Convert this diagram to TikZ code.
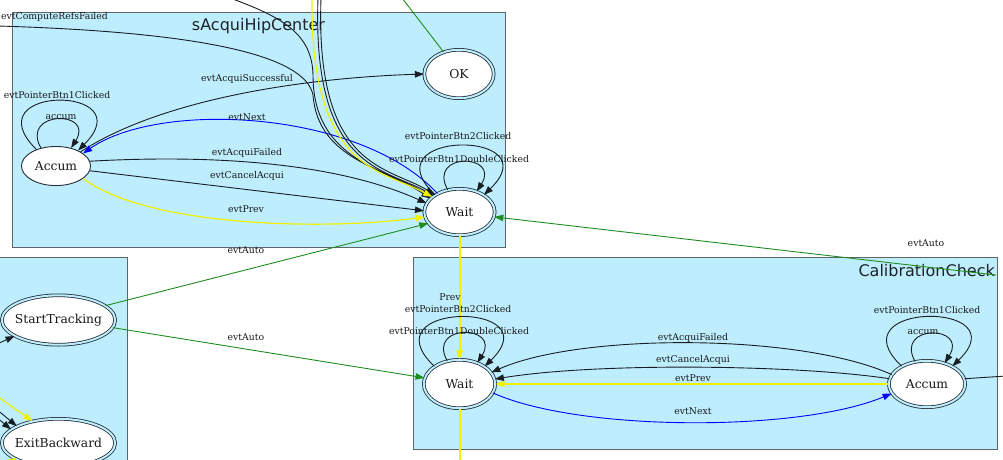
\documentclass[tikz,border=0pt]{standalone}
\usepackage{fontspec}
\setmainfont{DejaVu Serif}
\newfontfamily\titlefont{DejaVu Sans}
\usetikzlibrary{shapes.geometric,arrows.meta}
\definecolor{lb}{RGB}{190,238,253}
\definecolor{bord}{RGB}{95,100,105}
\definecolor{edgec}{RGB}{25,30,35}
\definecolor{nodec}{RGB}{35,45,55}
\definecolor{txtc}{RGB}{25,25,25}
\definecolor{titc}{RGB}{30,35,40}
\definecolor{grn}{RGB}{30,140,30}
\definecolor{yel}{RGB}{240,240,0}
\definecolor{blu}{RGB}{0,0,255}
\newcommand{\ntxt}[1]{\makebox[0pt]{#1}}
\tikzset{
 conn/.style={line width=0.9pt, draw=edgec, -{Triangle[length=9pt,width=6.5pt]}},
 yconn/.style={conn, draw=yel, line width=1.2pt},
 gconn/.style={conn, draw=grn},
 bconn/.style={conn, draw=blu},
 plainline/.style={line width=0.9pt, draw=edgec},
 yline/.style={line width=2pt, draw=yel},
 lbl/.style={font=\fontsize{9.3}{10}\selectfont, text=txtc, inner sep=0},
 cluster/.style={rectangle, fill=lb, draw=bord, line width=1.3pt, inner sep=0},
 st/.style={ellipse, draw=nodec, fill=white, line width=0.9pt, inner sep=0,
   font=\fontsize{12.3}{14}\selectfont, text=txtc},
 dst/.style={st, double=lb, double distance=2pt, line width=0.8pt},
 ctitle/.style={font=\titlefont\fontsize{16}{18}\selectfont, text=titc, inner sep=0},
}
\begin{document}
\begin{tikzpicture}[x=1pt,y=-1pt]
\path[use as bounding box] (0,0) rectangle (1003,459);
\clip (0,0) rectangle (1003,459);
% clusters
\node[cluster, anchor=north west, minimum width=493, minimum height=235] (c1) at (12,12) {};
\node[cluster, anchor=north west, minimum width=131, minimum height=215] (c2) at (-4,257) {};
\node[cluster, anchor=north west, minimum width=584, minimum height=192] (c3) at (413,257) {};
\node[ctitle] (t1) at (258.5,26) {sAcquiHipCenter};
\node[ctitle, anchor=east] (t2) at (995,271) {CalibrationCheck};
% nodes
\node[st, minimum width=69.1, minimum height=39.1] (acc1) at (56,166) {\ntxt{Accum}};
\node[dst, minimum width=69.4, minimum height=48.4] (ok) at (459,74) {\ntxt{OK}};
\node[dst, minimum width=70.4, minimum height=46.4] (wait1) at (459.5,212) {\ntxt{Wait}};
\node[dst, minimum width=113.4, minimum height=49.4] (start) at (58.5,320) {\ntxt{StartTracking}};
\node[dst, minimum width=113.4, minimum height=48.4] (exitb) at (58.5,443) {\ntxt{ExitBackward}};
\node[dst, minimum width=71.4, minimum height=48.4] (wait2) at (459.5,384) {\ntxt{Wait}};
\node[dst, minimum width=76.4, minimum height=46.4] (acc2) at (927,384) {\ntxt{Accum}};
% free ends
\coordinate (tb1) at (312,-2);
\coordinate (tb2) at (318,-2);
\coordinate (tb3) at (321,-2);
\coordinate (tb4) at (-2,26);
\coordinate (tb5) at (230,-2);
\coordinate (tok) at (402,-2);
\coordinate (cc) at (996,275);
\coordinate (yb) at (459.5,464);
\coordinate (rr) at (1006,376);
\coordinate (l1) at (-5,345);
\coordinate (l2) at (-5,408);
\coordinate (l3) at (-5,416);
\coordinate (l4) at (-3,396);
\coordinate (l5) at (-4,464);
% top cluster edges
\draw[conn] (acc1.140) .. controls +(-65,-65) and +(66,-66) .. (acc1.35);
\draw[conn] (acc1.130) .. controls +(-21,-38) and +(24,-38) .. (acc1.50);
\draw[conn] (acc1.30) .. controls (160,100) and (300,78) .. (ok.west);
\draw[bconn] (wait1.140) .. controls (360,110) and (160,100) .. (acc1.25);
\draw[conn] (acc1.8) .. controls (200,155) and (330,160) .. (wait1.165);
\draw[conn] (acc1.-8) -- (wait1.178);
\draw[yconn] (acc1.-25) .. controls (150,228) and (330,230) .. (wait1.188);
\draw[conn] (wait1.145) .. controls +(-68,-65) and +(68,-66) .. (wait1.35);
\draw[conn] (wait1.118) .. controls +(-21,-38) and +(24,-38) .. (wait1.50);
% bundle from above
\draw[conn] (tb4) .. controls (200,32) and (305,55) .. (313,95) .. controls (318,160) and (385,168) .. (wait1.152);
\draw[conn] (tb5) .. controls (285,18) and (312,35) .. (313,75) .. controls (313,160) and (385,168) .. (wait1.155);
\draw[conn] (tb2) .. controls (312,170) and (385,168) .. (wait1.148);
\draw[conn] (tb3) .. controls (315,170) and (388,166) .. (wait1.145);
\draw[yconn] (tb1) .. controls (310,172) and (383,170) .. (wait1.151);
\draw[line width=0.9pt, draw=grn] (ok.125) -- (tok);
\draw[gconn] (cc) -- (wait1.352);
\draw[gconn] (start.17) -- (wait1.200);
\draw[gconn] (start.352) -- (wait2.170);
\draw[yconn, line width=2pt] (wait1.south) -- (wait2.north);
\draw[yline] (wait2.south) -- (yb);
% bottom cluster edges
\draw[conn] (wait2.145) .. controls +(-68,-65) and +(68,-66) .. (wait2.35);
\draw[conn] (wait2.118) .. controls +(-21,-38) and +(24,-38) .. (wait2.50);
\draw[conn] (acc2.145) .. controls +(-68,-65) and +(68,-66) .. (acc2.35);
\draw[conn] (acc2.118) .. controls +(-21,-38) and +(24,-38) .. (acc2.50);
\draw[conn] (acc2.165) .. controls (800,333) and (580,333) .. (wait2.20);
\draw[conn] (acc2.172) .. controls (800,365) and (600,362) .. (wait2.8);
\draw[yconn] (acc2.180) -- (wait2.0);
\draw[bconn] (wait2.-15) .. controls (580,432) and (800,432) .. (acc2.195);
\draw[plainline] (acc2.8) -- (rr);
% left cluster edges
\draw[conn] (l1) -- (start.200);
\draw[conn] (l2) -- (exitb.158);
\draw[conn] (l3) -- (exitb.164);
\draw[yconn] (l4) -- (exitb.140);
\draw[yline] (exitb.200) -- (l5);
% labels
\node[lbl, anchor=west] (lab1) at (1,17) {evtComputeRefsFailed};
\node[lbl] (lab2) at (57,95) {evtPointerBtn1Clicked};
\node[lbl] (lab3) at (61,117) {accum};
\node[lbl] (lab4) at (247,79) {evtAcquiSuccessful};
\node[lbl] (lab5) at (247,117) {evtNext};
\node[lbl] (lab6) at (247,153) {evtAcquiFailed};
\node[lbl] (lab7) at (247,176) {evtCancelAcqui};
\node[lbl] (lab8) at (246,209) {evtPrev};
\node[lbl] (lab9) at (458,136) {evtPointerBtn2Clicked};
\node[lbl] (lab10) at (459,159) {evtPointerBtn1DoubleClicked};
\node[lbl] (lab11) at (246,250) {evtAuto};
\node[lbl] (lab12) at (926,243) {evtAuto};
\node[lbl] (lab13) at (246,337) {evtAuto};
\node[lbl] (lab14) at (450,297) {Prev};
\node[lbl] (lab15) at (458,309) {evtPointerBtn2Clicked};
\node[lbl] (lab16) at (459,331) {evtPointerBtn1DoubleClicked};
\node[lbl] (lab17) at (693,338) {evtAcquiFailed};
\node[lbl] (lab18) at (693,360) {evtCancelAcqui};
\node[lbl] (lab19) at (693,378) {evtPrev};
\node[lbl] (lab20) at (693,411) {evtNext};
\node[lbl] (lab21) at (927,310) {evtPointerBtn1Clicked};
\node[lbl] (lab22) at (923,332) {accum};
\end{tikzpicture}
\end{document}
